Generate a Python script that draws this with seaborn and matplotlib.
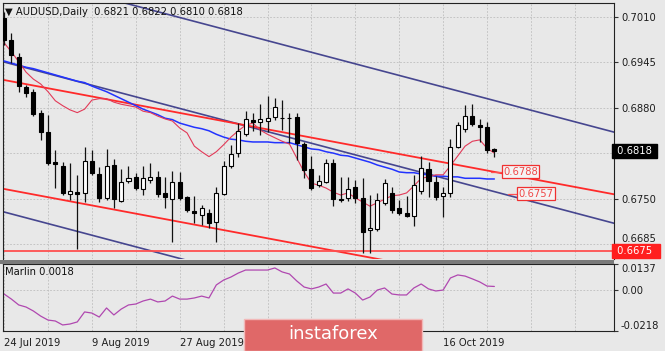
import numpy as np
import matplotlib
matplotlib.use("Agg")
import matplotlib.pyplot as plt
import seaborn as sns
from matplotlib.patches import Rectangle

# bougies journalières AUDUSD
opens = [0.7009, 0.6977, 0.6953, 0.6910, 0.6903, 0.6873, 0.6845, 0.6802, 0.6797, 0.6756,
         0.6760, 0.6758, 0.6804, 0.6785, 0.6751, 0.6798, 0.6747, 0.6775, 0.6781, 0.6764,
         0.6777, 0.6781, 0.6758, 0.6749, 0.6774, 0.6752, 0.6732, 0.6726, 0.6729, 0.6716,
         0.6757, 0.6797, 0.6815, 0.6842, 0.6863, 0.6860, 0.6861, 0.6867, 0.6866, 0.6866,
         0.6867, 0.6828, 0.6792, 0.6769, 0.6774, 0.6801, 0.6749, 0.6751, 0.6767, 0.6751,
         0.6705, 0.6706, 0.6744, 0.6758, 0.6736, 0.6729, 0.6725, 0.6761, 0.6792, 0.6774,
         0.6754, 0.6758, 0.6824, 0.6850, 0.6868, 0.6855, 0.6852, 0.6821]
highs = [0.7017, 0.6987, 0.6958, 0.6913, 0.6907, 0.6877, 0.6870, 0.6820, 0.6802, 0.6801,
         0.6784, 0.6824, 0.6820, 0.6795, 0.6821, 0.6807, 0.6792, 0.6797, 0.6787, 0.6797,
         0.6801, 0.6790, 0.6781, 0.6789, 0.6788, 0.6754, 0.6754, 0.6741, 0.6735, 0.6767,
         0.6804, 0.6827, 0.6858, 0.6875, 0.6873, 0.6885, 0.6897, 0.6894, 0.6891, 0.6873,
         0.6873, 0.6831, 0.6811, 0.6784, 0.6807, 0.6807, 0.6781, 0.6781, 0.6777, 0.6779,
         0.6755, 0.6758, 0.6778, 0.6767, 0.6748, 0.6754, 0.6784, 0.6811, 0.6802, 0.6782,
         0.6767, 0.6835, 0.6860, 0.6884, 0.6886, 0.6864, 0.6860, 0.6822]
lows = [0.6970, 0.6944, 0.6903, 0.6895, 0.6868, 0.6834, 0.6798, 0.6765, 0.6755, 0.6748,
        0.6678, 0.6745, 0.6784, 0.6745, 0.6748, 0.6736, 0.6745, 0.6772, 0.6762, 0.6755,
        0.6772, 0.6752, 0.6736, 0.6688, 0.6748, 0.6731, 0.6715, 0.6712, 0.6708, 0.6688,
        0.6755, 0.6794, 0.6810, 0.6840, 0.6847, 0.6841, 0.6845, 0.6863, 0.6848, 0.6830,
        0.6805, 0.6779, 0.6762, 0.6767, 0.6772, 0.6739, 0.6745, 0.6747, 0.6744, 0.6672,
        0.6672, 0.6703, 0.6741, 0.6729, 0.6726, 0.6724, 0.6711, 0.6757, 0.6752, 0.6748,
        0.6724, 0.6752, 0.6822, 0.6845, 0.6854, 0.6831, 0.6815, 0.6810]
closes = [0.6977, 0.6956, 0.6911, 0.6901, 0.6871, 0.6845, 0.6801, 0.6799, 0.6758, 0.6761,
          0.6757, 0.6804, 0.6787, 0.6751, 0.6797, 0.6749, 0.6774, 0.6779, 0.6765, 0.6779,
          0.6781, 0.6756, 0.6752, 0.6774, 0.6751, 0.6734, 0.6729, 0.6736, 0.6715, 0.6758,
          0.6797, 0.6814, 0.6847, 0.6864, 0.6860, 0.6864, 0.6865, 0.6881, 0.6865, 0.6865,
          0.6830, 0.6791, 0.6765, 0.6775, 0.6801, 0.6749, 0.6748, 0.6764, 0.6751, 0.6702,
          0.6708, 0.6748, 0.6772, 0.6734, 0.6729, 0.6725, 0.6769, 0.6793, 0.6775, 0.6752,
          0.6758, 0.6824, 0.6855, 0.6868, 0.6857, 0.6853, 0.6819, 0.6818]

# moyennes mobiles (rouge rapide, bleue lente)
ma_fast = [0.6973, 0.6960, 0.6946, 0.6931, 0.6921, 0.6914, 0.6903, 0.6890, 0.6883, 0.6877,
           0.6873, 0.6878, 0.6891, 0.6893, 0.6893, 0.6888, 0.6885, 0.6883, 0.6881, 0.6875,
           0.6873, 0.6868, 0.6864, 0.6861, 0.6851, 0.6844, 0.6825, 0.6817, 0.6810, 0.6817,
           0.6827, 0.6838, 0.6847, 0.6855, 0.6858, 0.6848, 0.6842, 0.6837, 0.6832, 0.6828,
           0.6808, 0.6788, 0.6772, 0.6769, 0.6765, 0.6759, 0.6755, 0.6758, 0.6751, 0.6745,
           0.6739, 0.6744, 0.6749, 0.6754, 0.6755, 0.6758, 0.6768, 0.6779, 0.6781, 0.6784,
           0.6784, 0.6797, 0.6811, 0.6825, 0.6832, 0.6834, 0.6822, 0.6815]
ma_slow = [0.6947, 0.6944, 0.6941, 0.6938, 0.6936, 0.6933, 0.6930, 0.6927, 0.6924, 0.6921,
           0.6918, 0.6916, 0.6911, 0.6907, 0.6903, 0.6898, 0.6893, 0.6888, 0.6883, 0.6878,
           0.6874, 0.6870, 0.6865, 0.6863, 0.6858, 0.6855, 0.6852, 0.6850, 0.6847, 0.6842,
           0.6838, 0.6835, 0.6834, 0.6832, 0.6831, 0.6831, 0.6831, 0.6830, 0.6830, 0.6830,
           0.6827, 0.6824, 0.6821, 0.6820, 0.6817, 0.6815, 0.6812, 0.6811, 0.6808, 0.6805,
           0.6802, 0.6798, 0.6795, 0.6792, 0.6788, 0.6787, 0.6787, 0.6785, 0.6784, 0.6782,
           0.6782, 0.6781, 0.6781, 0.6779, 0.6779, 0.6779, 0.6778, 0.6778]

# oscillateur Marlin
marlin = [-0.0022, -0.0049, -0.0080, -0.0091, -0.0112, -0.0139, -0.0160, -0.0165, -0.0186, -0.0181,
          -0.0170, -0.0117, -0.0123, -0.0144, -0.0096, -0.0133, -0.0102, -0.0080, -0.0075, -0.0059,
          -0.0049, -0.0064, -0.0059, -0.0033, -0.0049, -0.0049, -0.0043, -0.0033, -0.0043, 0.0026,
          0.0052, 0.0068, 0.0089, 0.0105, 0.0105, 0.0105, 0.0105, 0.0116, 0.0095, 0.0084,
          0.0047, 0.0015, 0.0005, 0.0015, 0.0031, -0.0017, -0.0017, 0.0005, -0.0017, -0.0054,
          -0.0038, -0.0001, 0.0010, -0.0022, -0.0027, -0.0027, 0.0010, 0.0031, 0.0005, -0.0006,
          -0.0001, 0.0063, 0.0079, 0.0073, 0.0058, 0.0042, 0.0020, 0.0018]

# lignes de canal : prix au bar 0 et au bar 84
trend_x = [0, 84]
navy_up = [0.70756, 0.68433]
navy_mid = [0.69455, 0.67128]
navy_low = [0.67307, 0.64980]
red_up = [0.69197, 0.67548]
red_low = [0.67637, 0.65988]
support = 0.6675
last_price = 0.6818

price_ticks = [0.7010, 0.6945, 0.6880, 0.6750, 0.6685]
price_labels = ["0.7010", "0.6945", "0.6880", "0.6750", "0.6685"]
date_ticks = [0, 12, 24, 60]
date_labels = ["24 Jul 2019", "9 Aug 2019", "27 Aug 2019", "16 Oct 2019"]
marlin_ticks = [0.0137, 0.0, -0.0218]
marlin_labels = ["0.0137", "0.00", "-0.0218"]

bg = "#E8E8E8"
sns.set_style("white", {"axes.facecolor": bg})
plt.rcParams["font.family"] = ["DejaVu Sans"]
fs = 7.2

fig = plt.figure(figsize=(6.65, 3.51), dpi=100, facecolor=bg)
ax = fig.add_axes([3 / 665, 1 - 259 / 351, 611 / 665, 256 / 351])
ax2 = fig.add_axes([3 / 665, 1 - 331 / 351, 611 / 665, 67 / 351])

bars = np.arange(len(opens))
o = np.array(opens)
c = np.array(closes)

# grille
for a in (ax, ax2):
    for g in range(0, 85, 6):
        a.axvline(g, color="#BDBDBD", lw=0.6, ls=(0, (2, 2)), zorder=0)
for p in price_ticks + [0.6815]:
    ax.axhline(p, color="#BDBDBD", lw=0.6, ls=(0, (2, 2)), zorder=0)
ax2.axhline(0, color="#BDBDBD", lw=0.6, ls=(0, (2, 2)), zorder=0)

# canaux
navy = "#4848930"[:7]
for line in (navy_up, navy_mid, navy_low):
    ax.plot(trend_x, line, color="#2A2A80", lw=1.2, alpha=0.85, zorder=2)
ax.plot(trend_x, red_up, color="#FF2A2A", lw=1.3, zorder=2)
ax.plot(trend_x, red_low, color="#FF2A2A", lw=1.3, zorder=2)
ax.axhline(support, color="#FF5050", lw=1.3, zorder=2)

# moyennes mobiles
sns.lineplot(x=bars, y=ma_slow, ax=ax, color="#2233FF", lw=1.1, zorder=3)
sns.lineplot(x=bars, y=ma_fast, ax=ax, color="#E23A58", lw=0.8, zorder=3)

# bougies
up = c >= o
ax.vlines(bars, lows, highs, color="#111111", lw=0.9, zorder=4)
ax.bar(bars[up], np.maximum(c - o, 0.00004)[up], bottom=o[up], width=0.55,
       color="white", edgecolor="black", lw=0.8, zorder=5)
ax.bar(bars[~up], np.maximum(o - c, 0.00004)[~up], bottom=c[~up], width=0.55,
       color="black", edgecolor="black", lw=0.8, zorder=5)

ax.set_xlim(-0.15, 83.35)
ax.set_ylim(0.66634, 0.70300)
ax.set_xticks([])
ax.yaxis.tick_right()
ax.set_yticks(price_ticks)
ax.set_yticklabels(price_labels, fontsize=fs, color="#1E1E1E")
ax.get_yticklabels()[-1].set_va("bottom")
ax.tick_params(axis="y", length=3, width=0.8, pad=2, color="#333333")
for s in ["left", "right", "top"]:
    ax.spines[s].set_color("#222222")
    ax.spines[s].set_linewidth(0.8)
ax.spines["bottom"].set_visible(False)

# étiquettes de prix
ax.text(1.0, last_price, " 0.6818 ", transform=ax.get_yaxis_transform(), ha="left", va="center",
        fontsize=fs, color="white", zorder=10, clip_on=False,
        bbox=dict(boxstyle="square,pad=0.2", fc="black", ec="black"))
ax.text(1.0, support, " 0.6675  ", transform=ax.get_yaxis_transform(), ha="left", va="center",
        fontsize=fs, color="white", zorder=10, clip_on=False,
        bbox=dict(boxstyle="square,pad=0.2", fc="#FF1E1E", ec="#FF1E1E"))

ax.plot([66.6, 68.2], [0.6788, 0.6788], color="#FF5050", lw=0.9, zorder=6)
ax.text(68.2, 0.6788, "0.6788", fontsize=fs, color="#F04848", va="center", ha="left", zorder=7,
        bbox=dict(boxstyle="square,pad=0.15", fc="#F4F4F4", ec="#F03030", lw=0.9))
ax.plot([68.8, 70.3], [0.6757, 0.6757], color="#FF5050", lw=0.9, zorder=6)
ax.text(70.3, 0.6757, "0.6757", fontsize=fs, color="#F04848", va="center", ha="left", zorder=7,
        bbox=dict(boxstyle="square,pad=0.15", fc="#F4F4F4", ec="#F03030", lw=0.9))

ax.text(0.004, 0.965, "\u25BC AUDUSD,Daily  0.6821 0.6822 0.6810 0.6818", transform=ax.transAxes,
        fontsize=fs, color="#111111", va="center", ha="left", zorder=9)

# panneau Marlin
sns.lineplot(x=bars, y=marlin, ax=ax2, color="#B048B0", lw=0.9)
ax2.set_xlim(-0.15, 83.35)
ax2.set_ylim(-0.0218, 0.0137)
ax2.yaxis.tick_right()
ax2.set_yticks(marlin_ticks)
ax2.set_yticklabels(marlin_labels, fontsize=fs, color="#1E1E1E")
lbls = ax2.get_yticklabels()
lbls[0].set_va("top")
lbls[2].set_va("bottom")
ax2.tick_params(axis="y", length=3, width=0.8, pad=2, color="#333333")
ax2.set_xticks(date_ticks)
ax2.set_xticklabels(date_labels, fontsize=fs, color="#1E1E1E", ha="left")
ax2.tick_params(axis="x", length=3, width=0.8, pad=2, color="#333333")
for s in ax2.spines.values():
    s.set_color("#222222")
    s.set_linewidth(0.8)
ax2.set_xlabel("")
ax2.set_ylabel("")
ax.set_ylabel("")
ax2.text(0.004, 0.88, "Marlin 0.0018", transform=ax2.transAxes, fontsize=fs,
         color="#111111", va="center", ha="left")

# séparateur entre panneaux
fig.patches.append(Rectangle((0, 1 - 263.5 / 351), 614 / 665, 4 / 351, transform=fig.transFigure,
                             facecolor="#7A7A7A", edgecolor="none", zorder=5))

# filigrane
fig.patches.append(Rectangle((244 / 665, 0), 178 / 665, 32 / 351, transform=fig.transFigure,
                             facecolor="#E06868", edgecolor="#F2B8B8", lw=1.0, zorder=20))
fig.text(333 / 665, 17 / 351, "instaforex", color="white", fontsize=13, ha="center",
         va="center", zorder=21)

fig.savefig("out.png", dpi=100, facecolor=bg)
